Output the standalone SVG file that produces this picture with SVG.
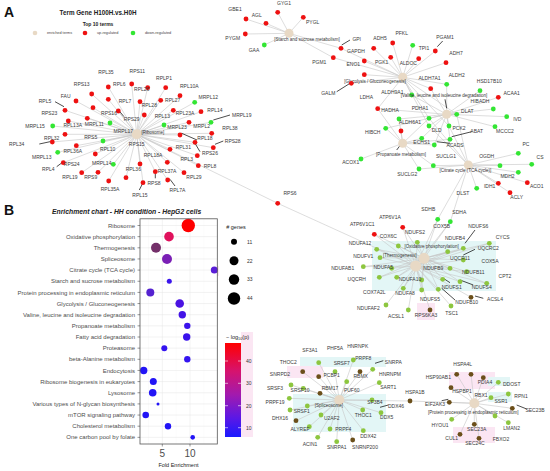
<svg xmlns="http://www.w3.org/2000/svg" width="550" height="471" viewBox="0 0 550 471">
<defs>
<linearGradient id="cbar" x1="0" y1="0" x2="0" y2="1">
<stop offset="0" stop-color="#FF0000"/>
<stop offset="0.3" stop-color="#D6136E"/>
<stop offset="0.55" stop-color="#A21AAE"/>
<stop offset="0.8" stop-color="#5A18E6"/>
<stop offset="1" stop-color="#1A1AFF"/>
</linearGradient>
</defs>
<style>
text{font-family:"Liberation Sans",Arial,sans-serif}
.e{stroke:#C6C6C6;stroke-width:.6;fill:none}
.ld{stroke:#000;stroke-width:.7;fill:none}
.r{fill:#EE1111}
.g{fill:#33E633}
.y{fill:#8DC63F}
.b{fill:#6B4F1A}
.h{fill:#E8D9C5}
.l{font-size:5px;fill:#3A3A3A;text-anchor:middle}
.ht{font-size:4.5px;fill:#333;text-anchor:middle}
.ax{font-size:6px;fill:#4D4D4D;text-anchor:end}
.grid{stroke:#E4E4E4;stroke-width:.5}
.mgrid{stroke:#F2F2F2;stroke-width:.35}
.lg{font-size:3.8px;fill:#444}
.hl-c{fill:#E3F6F6}
.hl-p{fill:#FBE6F3}
</style>

<g id="highlights">
<rect class="hl-c" x="372" y="241" width="124" height="50"/>
<rect class="hl-p" x="417" y="303" width="18" height="17"/>
<rect class="hl-c" x="300" y="357" width="86" height="10"/>
<rect class="hl-p" x="287" y="366" width="36" height="12"/>
<rect class="hl-c" x="293" y="394" width="93" height="38"/>
<rect class="hl-p" x="449" y="372" width="46" height="17"/>
<rect class="hl-c" x="488" y="377" width="22" height="9"/>
<rect class="hl-c" x="488" y="392" width="24" height="10"/>
<rect class="hl-p" x="453" y="427" width="42" height="16"/>
<rect class="hl-p" x="143" y="240" width="34" height="14"/>
<rect class="hl-p" x="207" y="266" width="12" height="10"/>
<rect class="hl-p" x="241" y="332" width="12" height="105"/>
</g>

<g id="panelA-header">
<text x="4" y="16.5" font-size="14" font-weight="bold" fill="#111">A</text>
<text x="98" y="15" font-size="6.3" font-weight="bold" fill="#222" text-anchor="middle">Term Gene  H100H.vs.H0H</text>
<text x="98" y="26" font-size="5" font-weight="bold" fill="#222" text-anchor="middle">Top 10 terms</text>
<circle class="h" cx="35" cy="33" r="2.3"/>
<text class="lg" x="47" y="34.3">enriched terms</text>
<circle class="r" cx="85" cy="33" r="2.3"/>
<text class="lg" x="97" y="34.3">up-regulated</text>
<circle class="g" cx="133" cy="33" r="2.3"/>
<text class="lg" x="145" y="34.3">down-regulated</text>
</g>

<g id="connectors">
<path class="e" d="M136.7 134.3L131.7 84M136.7 134.3L108.3 87M136.7 134.3L147.7 87.7M136.7 134.3L165.7 87.7M136.7 134.3L91.7 94M136.7 134.3L180 95.7M136.7 134.3L76 101M136.7 134.3L108.3 99.3M136.7 134.3L140 101.7M136.7 134.3L160.7 100.3M136.7 134.3L194.7 102.3M136.7 134.3L65 110.3M136.7 134.3L93 107.7M136.7 134.3L118.3 111M136.7 134.3L144.3 115M136.7 134.3L173.3 110.3M136.7 134.3L52.7 126M136.7 134.3L68.3 121M136.7 134.3L87.3 118.3M136.7 134.3L110 123M136.7 134.3L164 125M136.7 134.3L65 134.3M136.7 134.3L103 141M136.7 134.3L180 135M136.7 134.3L52.3 142M136.7 134.3L76.3 145.7M136.7 134.3L57.7 152.3M136.7 134.3L95.3 154M136.7 134.3L170 149.3M136.7 134.3L63.3 162.7M136.7 134.3L113.3 164.3M136.7 134.3L140 164M136.7 134.3L167.3 162.3M136.7 134.3L81.7 172.7M136.7 134.3L98 172.3M136.7 134.3L126 177.7M136.7 134.3L155.3 171.7M136.7 134.3L184 172.7M136.7 134.3L108.7 181M136.7 134.3L143 182.7M136.7 134.3L167.7 180M136.7 134.3L201 111.7M136.7 134.3L211 122.3M136.7 134.3L189 122.3M136.7 134.3L211.7 133.3M136.7 134.3L195 142.3M136.7 134.3L213.3 147.7M136.7 134.3L197.3 155.7M136.7 134.3L198.3 165.7M136.7 134.3L277.7 203.3L415.7 266"/>
<path class="e" d="M289 33.3L277.7 12.3M289 33.3L246 19M289 33.3L266 23.3M289 33.3L303.3 17.3M289 33.3L245.3 34M289 33.3L264.3 45M289 33.3L341 48.3M289 33.3L333.3 57.7"/>
<path class="e" d="M402.7 77.3L341 48.3M402.7 77.3L333.3 57.7M402.7 77.3L373.7 48.3M402.7 77.3L392.7 43M402.7 77.3L412.7 45.3M402.7 77.3L435.3 51M402.7 77.3L446 62.7M402.7 77.3L364.3 61M402.7 77.3L390.7 57.3M402.7 77.3L418.7 58.7M402.7 77.3L364.3 74.7M402.7 77.3L351.3 83.3M402.7 77.3L430.7 88.7M402.7 77.3L446.7 84.3M402.7 77.3L411.7 95M402.7 77.3L377.7 108.7M402.7 77.3L429 118.3M402.7 77.3L456.7 114.3M402.7 77.3L429 126M402.7 77.3L449 126"/>
<path class="e" d="M446.7 114.3L446.7 84.3M446.7 114.3L430.7 88.7M446.7 114.3L411.7 95M446.7 114.3L480 90.7M446.7 114.3L498.3 97.3M446.7 114.3L456.7 114.3M446.7 114.3L493.3 109M446.7 114.3L506.7 116.7M446.7 114.3L429 118.3M446.7 114.3L399 119M446.7 114.3L385.7 128.3M446.7 114.3L429 126M446.7 114.3L449 126M446.7 114.3L495 126.7M446.7 114.3L450 139.3M446.7 114.3L421.7 138.3M446.7 114.3L434.3 145M446.7 114.3L377.7 108.7"/>
<path class="e" d="M402.7 143.3L361 159M402.7 143.3L419 169M402.7 143.3L433.3 165.7M402.7 143.3L421.7 138.3M402.7 143.3L450 139.3M402.7 143.3L434.3 145M402.7 143.3L399 119M402.7 143.3L385.7 128.3M402.7 143.3L401 131M402.7 143.3L377.7 108.7M402.7 143.3L429 118.3"/>
<path class="e" d="M468.3 165L518.3 153.3M468.3 165L531.7 164.3M468.3 165L500 165.7M468.3 165L518.3 172.3M468.3 165L527.3 182.7M468.3 165L498.3 183.3M468.3 165L476.7 188.3M468.3 165L510 192.7M468.3 165L433.3 165.7M468.3 165L419 169M468.3 165L456.7 114.3M468.3 165L429 126M468.3 165L449 126M468.3 165L429 118.3M468.3 165L437.7 219.3M468.3 165L450.3 221.7"/>
<path class="e" d="M424 258.3L437.7 219.3M424 258.3L450.3 221.7M424 258.3L402.7 227.3M424 258.3L374.3 234.3M424 258.3L398.3 246M424 258.3L417.3 242.3M424 258.3L447.7 251.7M424 258.3L463.3 248.3M424 258.3L489.3 243.3M424 258.3L376.7 249.3M424 258.3L380 257.7M424 258.3L463.3 260M424 258.3L363.3 266.7M424 258.3L391.7 268.3M424 258.3L450 268.3M424 258.3L466.7 271.7M424 258.3L486.7 283.3M424 258.3L379.3 277.3M424 258.3L396.7 277.3M424 258.3L421.7 280M424 258.3L442.7 279.3M424 258.3L460 281.7M424 258.3L403.3 288.3M424 258.3L421.7 290M424 258.3L438.3 289.3"/>
<path class="e" d="M415.7 266L437.7 219.3M415.7 266L450.3 221.7M415.7 266L402.7 227.3M415.7 266L374.3 234.3M415.7 266L398.3 246M415.7 266L417.3 242.3M415.7 266L447.7 251.7M415.7 266L463.3 248.3M415.7 266L489.3 243.3M415.7 266L376.7 249.3M415.7 266L380 257.7M415.7 266L463.3 260M415.7 266L363.3 266.7M415.7 266L391.7 268.3M415.7 266L450 268.3M415.7 266L466.7 271.7M415.7 266L486.7 283.3M415.7 266L379.3 277.3M415.7 266L396.7 277.3M415.7 266L421.7 280M415.7 266L442.7 279.3M415.7 266L460 281.7M415.7 266L403.3 288.3M415.7 266L421.7 290M415.7 266L438.3 289.3M415.7 266L386 305M415.7 266L408.3 310M415.7 266L451 306M415.7 266L471 297.3M415.7 266L430 310"/>
<path class="e" d="M339.3 400L318.7 362.7M339.3 400L353.3 360M339.3 400L335 371.7M339.3 400L372.7 369.3M339.3 400L291 385M339.3 400L303.3 388.3M339.3 400L346.7 381.7M339.3 400L379.3 382.7M339.3 400L289.3 398.3M339.3 400L307.3 406M339.3 400L290 410M339.3 400L362.7 410M339.3 400L381 412.7M339.3 400L321 415M339.3 400L309.3 426.7M339.3 400L330 429M339.3 400L363.3 430.7M339.3 400L317.7 437.3M339.3 400L336.7 441.7M339.3 400L372 400M339.3 400L302.7 371.7M339.3 400L318.7 376.7M339.3 400L360 371.7M339.3 400L320 393.3M339.3 400L296 420.7M339.3 400L352.7 440M339.3 400L410 401L474.3 403.3"/>
<path class="e" d="M474.3 403.3L456.7 374.3M474.3 403.3L471 374.3M474.3 403.3L483.3 377.7M474.3 403.3L498.3 382.3M474.3 403.3L451 387.7M474.3 403.3L508.3 394M474.3 403.3L491 397.7M474.3 403.3L449.3 402.3M474.3 403.3L512.3 408.3M474.3 403.3L495 416M474.3 403.3L451.7 419.3M474.3 403.3L474.3 424.3M474.3 403.3L508.3 422.7M474.3 403.3L460 434.3M474.3 403.3L479 438.3"/>
<path class="ld" d="M55 101.7L64 106.7M119.3 111L124 116.7M39.3 144L50 141.7M56.7 166.7L63.3 161.7M155.3 173.3L155.3 178.3M139.3 190L142.7 183.3M170 179.3L175 186M181.7 133.3L197 140M213.3 120L230 115M215 144.3L223.3 141M195 143.3L200 151.7"/>
<path class="ld" d="M341.7 45L350 40M437.3 46.7L442.7 41M336.7 91.7L350 83.3M445 99.3L446.7 108.3M451.7 136.7L471.7 131.7M436.7 141.7L450 143.3M396.7 150L401.7 143.3"/>
<path class="ld" d="M465 243.3L475 230M463.3 255L475 249.3M443.3 278.3L450 282.7M460 280L473.3 285M441.7 288.3L455 300M475 296L483.3 298.3"/>
<path class="ld" d="M375 363.3L383.3 360.7M380 407.3L388.3 405M441.7 400.7L448.3 399.3M516.7 405L526.7 409"/>
</g>

<g id="term-ribosome">
<circle class="h" cx="136.7" cy="134.3" r="5"/>
<text class="ht" x="141.5" y="133.8" style="text-anchor:start">[Ribosome]</text>
</g>
<g id="genes-ribosome">
<circle class="r" cx="131.7" cy="84" r="2.4"/><circle class="r" cx="108.3" cy="87" r="2.4"/><circle class="r" cx="147.7" cy="87.7" r="2.4"/><circle class="r" cx="165.7" cy="87.7" r="2.4"/><circle class="r" cx="91.7" cy="94" r="2.4"/><circle class="r" cx="180" cy="95.7" r="2.4"/><circle class="r" cx="76" cy="101" r="2.4"/><circle class="r" cx="108.3" cy="99.3" r="2.4"/><circle class="r" cx="140" cy="101.7" r="2.4"/><circle class="r" cx="160.7" cy="100.3" r="2.4"/><circle class="g" cx="194.7" cy="102.3" r="2.4"/><circle class="r" cx="65" cy="110.3" r="2.4"/><circle class="r" cx="93" cy="107.7" r="2.4"/><circle class="r" cx="118.3" cy="111" r="2.4"/><circle class="r" cx="144.3" cy="115" r="2.4"/><circle class="r" cx="173.3" cy="110.3" r="2.4"/><circle class="g" cx="52.7" cy="126" r="2.4"/><circle class="r" cx="68.3" cy="121" r="2.4"/><circle class="r" cx="87.3" cy="118.3" r="2.4"/><circle class="g" cx="110" cy="123" r="2.4"/><circle class="g" cx="164" cy="125" r="2.4"/><circle class="r" cx="65" cy="134.3" r="2.4"/><circle class="g" cx="103" cy="141" r="2.4"/><circle class="r" cx="180" cy="135" r="2.4"/><circle class="r" cx="52.3" cy="142" r="2.4"/><circle class="r" cx="76.3" cy="145.7" r="2.4"/><circle class="g" cx="57.7" cy="152.3" r="2.4"/><circle class="r" cx="95.3" cy="154" r="2.4"/><circle class="r" cx="170" cy="149.3" r="2.4"/><circle class="r" cx="63.3" cy="162.7" r="2.4"/><circle class="g" cx="113.3" cy="164.3" r="2.4"/><circle class="r" cx="140" cy="164" r="2.4"/><circle class="r" cx="167.3" cy="162.3" r="2.4"/><circle class="r" cx="81.7" cy="172.7" r="2.4"/><circle class="r" cx="98" cy="172.3" r="2.4"/><circle class="r" cx="126" cy="177.7" r="2.4"/><circle class="r" cx="155.3" cy="171.7" r="2.4"/><circle class="r" cx="184" cy="172.7" r="2.4"/><circle class="r" cx="108.7" cy="181" r="2.4"/><circle class="r" cx="143" cy="182.7" r="2.4"/><circle class="r" cx="167.7" cy="180" r="2.4"/><circle class="r" cx="201" cy="111.7" r="2.4"/><circle class="g" cx="211" cy="122.3" r="2.4"/><circle class="r" cx="189" cy="122.3" r="2.4"/><circle class="r" cx="211.7" cy="133.3" r="2.4"/><circle class="r" cx="195" cy="142.3" r="2.4"/><circle class="r" cx="213.3" cy="147.7" r="2.4"/><circle class="r" cx="197.3" cy="155.7" r="2.4"/><circle class="r" cx="198.3" cy="165.7" r="2.4"/>
<circle id="n-RPS6" class="r" cx="277.7" cy="203.3" r="2.4"/>
<text class="l" x="106" y="73.5">RPL35</text><text class="l" x="137.3" y="72.8">RPS11</text><text class="l" x="164" y="79.5">RPLP1</text><text class="l" x="81.7" y="85.8">RPS13</text><text class="l" x="119.3" y="85.8">RPL6</text><text class="l" x="141.7" y="91.1">RPL26</text><text class="l" x="189.3" y="87.5">RPL10A</text><text class="l" x="65.7" y="97.8">FAU</text><text class="l" x="45" y="102.8">RPL5</text><text class="l" x="125" y="102.8">RPL7</text><text class="l" x="149.3" y="106.8">RPL28</text><text class="l" x="172.7" y="101.8">RPL27</text><text class="l" x="208.3" y="99.1">MRPL12</text><text class="l" x="49.3" y="114.8">RPS23</text><text class="l" x="109" y="114.8">RPS16</text><text class="l" x="131.7" y="120.8">RPS29</text><text class="l" x="162.3" y="117.8">RPL13</text><text class="l" x="185" y="115.1">RPL23A</text><text class="l" x="215" y="111.8">RPL14</text><text class="l" x="241.7" y="116.8">MRPL19</text><text class="l" x="35" y="127.8">MRPL15</text><text class="l" x="72.7" y="126.8">RPL13A</text><text class="l" x="94.3" y="125.8">MRPL11</text><text class="l" x="123.3" y="132.5">MRPL17</text><text class="l" x="177" y="128.5">MRPL23</text><text class="l" x="201.7" y="127.8">MRPL2</text><text class="l" x="230" y="129.5">RPL38</text><text class="l" x="51.7" y="140.1">RPL32</text><text class="l" x="90.7" y="138.5">RPS5</text><text class="l" x="205" y="140.1">RPL18</text><text class="l" x="232.7" y="142.8">RPS28</text><text class="l" x="16.7" y="145.8">RPL34</text><text class="l" x="136.7" y="145.8">RPS15</text><text class="l" x="183.3" y="149.1">RPL31</text><text class="l" x="72.7" y="152.8">RPL36A</text><text class="l" x="107.7" y="151.1">RPL10</text><text class="l" x="210" y="155.1">RPS26</text><text class="l" x="153" y="156.8">RPL18A</text><text class="l" x="41.7" y="159.1">MRPL13</text><text class="l" x="186.7" y="161.1">RPL3</text><text class="l" x="71.7" y="166.1">RPS24</text><text class="l" x="101.7" y="164.5">MRPL14</text><text class="l" x="210" y="167.5">RPL8</text><text class="l" x="48.3" y="171.1">RPL4</text><text class="l" x="133.3" y="170.8">RPL36</text><text class="l" x="167" y="172.8">RPL37A</text><text class="l" x="70" y="179.1">RPL19</text><text class="l" x="90.7" y="179.1">RPS9</text><text class="l" x="194" y="179.3">RPL29</text><text class="l" x="154" y="185.1">RPS8</text><text class="l" x="110" y="191.1">RPL35A</text><text class="l" x="177.5" y="192.1">RPL7A</text><text class="l" x="140" y="196.8">RPL15</text><text class="l" x="290" y="195.1">RPS6</text>
</g>

<g id="term-starch">
<circle class="h" cx="289" cy="33.3" r="4.5"/>
<text class="ht" x="307" y="40.5">[Starch and sucrose metabolism]</text>
</g>
<g id="genes-starch">
<circle class="r" cx="277.7" cy="12.3" r="2.4"/><circle class="r" cx="246" cy="19" r="2.4"/><circle class="r" cx="266" cy="23.3" r="2.4"/><circle class="r" cx="303.3" cy="17.3" r="2.4"/><circle class="r" cx="245.3" cy="34" r="2.4"/><circle class="g" cx="264.3" cy="45" r="2.4"/><circle class="r" cx="341" cy="48.3" r="2.4"/><circle class="r" cx="333.3" cy="57.7" r="2.4"/>
<text class="l" x="284" y="4.8">GYG1</text><text class="l" x="235" y="10.8">GBE1</text><text class="l" x="256.7" y="16.8">AGL</text><text class="l" x="312.7" y="24.1">PYGL</text><text class="l" x="232.7" y="40.1">PYGM</text><text class="l" x="254" y="51.8">GAA</text><text class="l" x="356.7" y="40.5">GPI</text><text class="l" x="356" y="52.8">GAPDH</text><text class="l" x="319.3" y="64.1">PGM1</text>
</g>

<g id="term-glycolysis">
<circle class="h" cx="402.7" cy="77.3" r="4.5"/>
<text class="ht" x="375" y="82.6">[Glycolysis / Gluconeogenesis]</text>
</g>
<g id="genes-glycolysis">
<circle class="r" cx="373.7" cy="48.3" r="2.4"/><circle class="r" cx="392.7" cy="43" r="2.4"/><circle class="g" cx="412.7" cy="45.3" r="2.4"/><circle class="r" cx="435.3" cy="51" r="2.4"/><circle class="r" cx="446" cy="62.7" r="2.4"/><circle class="r" cx="364.3" cy="61" r="2.4"/><circle class="r" cx="390.7" cy="57.3" r="2.4"/><circle class="r" cx="418.7" cy="58.7" r="2.4"/><circle class="r" cx="364.3" cy="74.7" r="2.4"/><circle class="r" cx="351.3" cy="83.3" r="2.4"/><circle class="r" cx="430.7" cy="88.7" r="2.4"/><circle class="g" cx="446.7" cy="84.3" r="2.4"/><circle class="g" cx="411.7" cy="95" r="2.4"/><circle class="r" cx="377.7" cy="108.7" r="2.4"/>
<text class="l" x="380" y="39.5">ADH5</text><text class="l" x="401.7" y="35.1">PFKL</text><text class="l" x="424" y="50.1">TPI1</text><text class="l" x="445" y="38.5">PGAM1</text><text class="l" x="456" y="54.5">ADH7</text><text class="l" x="353.3" y="66.1">ENO1</text><text class="l" x="381.7" y="63.5">PGK1</text><text class="l" x="408.3" y="64.5">ALDOC</text><text class="l" x="328.3" y="94.5">GALM</text><text class="l" x="366.3" y="99.3">LDHA</text><text class="l" x="429.5" y="79.5">ALDH7A1</text><text class="l" x="456.7" y="76.5">ALDH2</text><text class="l" x="392.3" y="94.3">ALDH9A1</text>
</g>

<g id="term-valine">
<circle class="h" cx="446.7" cy="114.3" r="4.5"/>
<text class="ht" x="444" y="97.3">[Valine, leucine and isoleucine degradation]</text>
</g>
<g id="genes-valine">
<circle class="g" cx="480" cy="90.7" r="2.4"/><circle class="r" cx="498.3" cy="97.3" r="2.4"/><circle class="g" cx="456.7" cy="114.3" r="2.4"/><circle class="g" cx="493.3" cy="109" r="2.4"/><circle class="g" cx="506.7" cy="116.7" r="2.4"/><circle class="g" cx="429" cy="118.3" r="2.4"/><circle class="g" cx="399" cy="119" r="2.4"/><circle class="g" cx="385.7" cy="128.3" r="2.4"/><circle class="g" cx="429" cy="126" r="2.4"/><circle class="g" cx="449" cy="126" r="2.4"/><circle class="g" cx="495" cy="126.7" r="2.4"/><circle class="g" cx="450" cy="139.3" r="2.4"/><circle class="g" cx="421.7" cy="138.3" r="2.4"/><circle class="g" cx="434.3" cy="145" r="2.4"/><circle class="r" cx="401" cy="131" r="2.4"/>
<text class="l" x="489.3" y="83.1">HSD17B10</text><text class="l" x="511.7" y="95.1">ACAA1</text><text class="l" x="480" y="103.3">HIBADH</text><text class="l" x="390" y="111.8">HADHA</text><text class="l" x="420" y="109.5">PDHA1</text><text class="l" x="467.3" y="112.8">DLAT</text><text class="l" x="517.3" y="121.1">IVD</text><text class="l" x="410" y="124.1">ALDH6A1</text><text class="l" x="372.7" y="133.5">HIBCH</text><text class="l" x="436.7" y="131.8">DLD</text><text class="l" x="459" y="129.5">PCK2</text><text class="l" x="505" y="132.8">MCCC2</text><text class="l" x="476.7" y="132.8">ABAT</text><text class="l" x="421.7" y="144.1">ECHS1</text><text class="l" x="455" y="146.8">ACADS</text>
</g>

<g id="term-propanoate">
<circle class="h" cx="402.7" cy="143.3" r="4.5"/>
<text class="ht" x="401" y="155.9">[Propanoate metabolism]</text>
</g>
<g id="genes-propanoate">
<circle class="g" cx="361" cy="159" r="2.4"/><circle class="g" cx="419" cy="169" r="2.4"/><circle class="g" cx="433.3" cy="165.7" r="2.4"/>
<text class="l" x="350.7" y="164.1">ACOX1</text><text class="l" x="407.3" y="176.1">SUCLG2</text><text class="l" x="446" y="157.8">SUCLG1</text>
</g>

<g id="term-citrate">
<circle class="h" cx="468.3" cy="165" r="4.5"/>
<text class="ht" x="465.5" y="171.6">[Citrate cycle (TCA cycle)]</text>
</g>
<g id="genes-citrate">
<circle class="g" cx="518.3" cy="153.3" r="2.4"/><circle class="g" cx="531.7" cy="164.3" r="2.4"/><circle class="g" cx="500" cy="165.7" r="2.4"/><circle class="g" cx="518.3" cy="172.3" r="2.4"/><circle class="r" cx="527.3" cy="182.7" r="2.4"/><circle class="r" cx="498.3" cy="183.3" r="2.4"/><circle class="g" cx="476.7" cy="188.3" r="2.4"/><circle class="r" cx="510" cy="192.7" r="2.4"/>
<text class="l" x="526" y="146.1">PC</text><text class="l" x="540" y="159.1">CS</text><text class="l" x="486.7" y="157.8">OGDH</text><text class="l" x="507.5" y="177.8">MDH2</text><text class="l" x="536.7" y="188">ACO1</text><text class="l" x="489.7" y="188.3">IDH1</text><text class="l" x="463" y="194.5">DLST</text><text class="l" x="516.7" y="198.5">ACLY</text>
</g>

<g id="term-oxphos">
<circle class="h" cx="424" cy="258.3" r="5.5"/>
<text class="ht" x="431.7" y="248.3">[Oxidative phosphorylation]</text>
</g>
<g id="term-thermogenesis">
<circle class="h" cx="415.7" cy="266" r="5.5"/>
<text class="ht" x="399.7" y="257.3">[Thermogenesis]</text>
</g>
<g id="genes-oxphos">
<circle class="g" cx="437.7" cy="219.3" r="2.4"/><circle class="g" cx="450.3" cy="221.7" r="2.4"/><circle class="r" cx="402.7" cy="227.3" r="2.4"/><circle class="r" cx="374.3" cy="234.3" r="2.4"/>
<circle class="y" cx="398.3" cy="246" r="2.4"/><circle class="y" cx="417.3" cy="242.3" r="2.4"/><circle class="y" cx="447.7" cy="251.7" r="2.4"/><circle class="y" cx="463.3" cy="248.3" r="2.4"/><circle class="y" cx="489.3" cy="243.3" r="2.4"/><circle class="y" cx="376.7" cy="249.3" r="2.4"/><circle class="y" cx="380" cy="257.7" r="2.4"/><circle class="y" cx="463.3" cy="260" r="2.4"/><circle class="y" cx="363.3" cy="266.7" r="2.4"/><circle class="y" cx="391.7" cy="268.3" r="2.4"/><circle class="y" cx="450" cy="268.3" r="2.4"/><circle class="y" cx="466.7" cy="271.7" r="2.4"/><circle class="y" cx="486.7" cy="283.3" r="2.4"/><circle class="y" cx="379.3" cy="277.3" r="2.4"/><circle class="y" cx="396.7" cy="277.3" r="2.4"/><circle class="y" cx="421.7" cy="280" r="2.4"/><circle class="y" cx="442.7" cy="279.3" r="2.4"/><circle class="y" cx="460" cy="281.7" r="2.4"/><circle class="y" cx="403.3" cy="288.3" r="2.4"/><circle class="y" cx="421.7" cy="290" r="2.4"/><circle class="y" cx="438.3" cy="289.3" r="2.4"/><circle class="y" cx="386" cy="305" r="2.4"/><circle class="y" cx="408.3" cy="310" r="2.4"/><circle class="y" cx="451" cy="306" r="2.4"/><circle class="b" cx="471" cy="297.3" r="2.4"/><circle class="b" cx="430" cy="310" r="2.4"/>
<text class="l" x="428.3" y="211.1">SDHB</text><text class="l" x="459.3" y="213.5">SDHA</text><text class="l" x="390" y="218.5">ATP6V1A</text><text class="l" x="362.3" y="226.1">ATP6V1C1</text><text class="l" x="388.3" y="237.8">COX6C</text><text class="l" x="415" y="234.1">NDUFS2</text><text class="l" x="441.7" y="227.8">COX5B</text><text class="l" x="478.3" y="227.8">NDUFS6</text><text class="l" x="455" y="240.1">NDUFB4</text><text class="l" x="502.7" y="238.5">CYCS</text><text class="l" x="360" y="244.5">NDUFA12</text><text class="l" x="488.3" y="250.1">UQCRC2</text><text class="l" x="363.3" y="257.5">NDUFV1</text><text class="l" x="460" y="260.1">UQCR11</text><text class="l" x="490" y="262.8">COX5A</text><text class="l" x="342.7" y="270.1">NDUFAB1</text><text class="l" x="383.3" y="269.1">NDUFA5</text><text class="l" x="433.3" y="269.5">NDUFB9</text><text class="l" x="473.3" y="274.1">NDUFB11</text><text class="l" x="505" y="277.8">CPT2</text><text class="l" x="356.7" y="281.1">UQCRH</text><text class="l" x="410" y="281.1">NDUFA10</text><text class="l" x="451.7" y="288.5">NDUFS1</text><text class="l" x="481.7" y="288.5">NDUFS4</text><text class="l" x="374.3" y="293.5">COX7A2L</text><text class="l" x="405" y="294.5">NDUFA8</text><text class="l" x="430" y="301.1">NDUFS5</text><text class="l" x="466.7" y="303.5">NDUFB10</text><text class="l" x="495" y="301.1">ACSL4</text><text class="l" x="368.3" y="310.1">NDUFAF2</text><text class="l" x="396" y="317.5">ACSL1</text><text class="l" x="426" y="316.8">RPS6KA3</text><text class="l" x="451.7" y="315.1">TSC1</text>
</g>

<g id="term-spliceosome">
<circle class="h" cx="339.3" cy="400" r="5"/>
<text class="ht" x="329" y="406.6">[Spliceosome]</text>
</g>
<g id="genes-spliceosome">
<circle class="y" cx="318.7" cy="362.7" r="2.4"/><circle class="y" cx="353.3" cy="360" r="2.4"/><circle class="y" cx="335" cy="371.7" r="2.4"/><circle class="y" cx="372.7" cy="369.3" r="2.4"/><circle class="y" cx="291" cy="385" r="2.4"/><circle class="y" cx="303.3" cy="388.3" r="2.4"/><circle class="y" cx="346.7" cy="381.7" r="2.4"/><circle class="y" cx="379.3" cy="382.7" r="2.4"/><circle class="y" cx="289.3" cy="398.3" r="2.4"/><circle class="y" cx="307.3" cy="406" r="2.4"/><circle class="y" cx="290" cy="410" r="2.4"/><circle class="y" cx="362.7" cy="410" r="2.4"/><circle class="y" cx="381" cy="412.7" r="2.4"/><circle class="y" cx="321" cy="415" r="2.4"/><circle class="y" cx="309.3" cy="426.7" r="2.4"/><circle class="y" cx="330" cy="429" r="2.4"/><circle class="y" cx="363.3" cy="430.7" r="2.4"/><circle class="y" cx="317.7" cy="437.3" r="2.4"/><circle class="y" cx="336.7" cy="441.7" r="2.4"/><circle class="y" cx="372" cy="400" r="2.4"/>
<circle class="b" cx="302.7" cy="371.7" r="2.4"/><circle class="b" cx="318.7" cy="376.7" r="2.4"/><circle class="b" cx="360" cy="371.7" r="2.4"/><circle class="b" cx="320" cy="393.3" r="2.4"/><circle class="b" cx="296" cy="420.7" r="2.4"/><circle class="b" cx="352.7" cy="440" r="2.4"/><circle class="b" cx="410" cy="401" r="2.4"/>
<text class="l" x="310" y="351.8">SF3A1</text><text class="l" x="335" y="350.1">PHF5A</text><text class="l" x="357.7" y="347.8">HNRNPK</text><text class="l" x="288.3" y="364.1">THOC2</text><text class="l" x="341.7" y="364.5">SRSF7</text><text class="l" x="363.3" y="360.1">PRPF8</text><text class="l" x="393.3" y="363.5">SNRPA</text><text class="l" x="280" y="376.1">SNRPD2</text><text class="l" x="331.7" y="376.8">PCBP1</text><text class="l" x="360.7" y="377.5">RBMX</text><text class="l" x="390" y="376.1">HNRNPM</text><text class="l" x="275" y="389.5">SRSF3</text><text class="l" x="300" y="391.8">SRSF10</text><text class="l" x="330" y="389.5">RBM17</text><text class="l" x="351.7" y="391.8">PUF60</text><text class="l" x="388.3" y="389.1">SART1</text><text class="l" x="275" y="403.5">PRPF19</text><text class="l" x="375" y="403.5">SF3B4</text><text class="l" x="396" y="407.8">DDX46</text><text class="l" x="301.7" y="412.8">SRSF1</text><text class="l" x="363.3" y="416.8">THOC1</text><text class="l" x="386.7" y="419.1">DDX5</text><text class="l" x="280" y="420.1">DHX16</text><text class="l" x="331.7" y="420.1">U2AF2</text><text class="l" x="300" y="430.8">ALYREF</text><text class="l" x="343.3" y="431.1">PRPF4</text><text class="l" x="368.3" y="437.8">DDX42</text><text class="l" x="310" y="445.8">ACIN1</text><text class="l" x="336.7" y="448.5">SNRPA1</text><text class="l" x="365" y="449.1">SNRNP200</text><text class="l" x="415" y="394">HSPA1B</text>
</g>

<g id="term-er">
<circle class="h" cx="474.3" cy="403.3" r="5"/>
<text class="ht" x="473.3" y="414.3">[Protein processing in endoplasmic reticulum]</text>
</g>
<g id="genes-er">
<circle class="b" cx="456.7" cy="374.3" r="2.4"/><circle class="b" cx="471" cy="374.3" r="2.4"/><circle class="b" cx="483.3" cy="377.7" r="2.4"/><circle class="y" cx="498.3" cy="382.3" r="2.4"/><circle class="b" cx="451" cy="387.7" r="2.4"/><circle class="y" cx="508.3" cy="394" r="2.4"/><circle class="y" cx="491" cy="397.7" r="2.4"/><circle class="b" cx="449.3" cy="402.3" r="2.4"/><circle class="b" cx="512.3" cy="408.3" r="2.4"/><circle class="y" cx="495" cy="416" r="2.4"/><circle class="y" cx="451.7" cy="419.3" r="2.4"/><circle class="b" cx="474.3" cy="424.3" r="2.4"/><circle class="y" cx="508.3" cy="422.7" r="2.4"/><circle class="b" cx="460" cy="434.3" r="2.4"/><circle class="b" cx="479" cy="438.3" r="2.4"/>
<text class="l" x="462.7" y="366.1">HSPA4L</text><text class="l" x="438.3" y="378.5">HSP90AB1</text><text class="l" x="485" y="383.5">PDIA4</text><text class="l" x="511.7" y="385.8">DDOST</text><text class="l" x="462" y="392.8">HSPBP1</text><text class="l" x="481" y="396.5">RBX1</text><text class="l" x="521" y="397.5">RPN1</text><text class="l" x="501" y="402.8">SSR1</text><text class="l" x="435" y="405.5">EIF2AK3</text><text class="l" x="535" y="411.8">SEC23B</text><text class="l" x="440" y="426.8">HYOU1</text><text class="l" x="476.7" y="431.1">SEC23A</text><text class="l" x="511.7" y="430.1">LMAN2</text><text class="l" x="451.7" y="440.1">CUL1</text><text class="l" x="475" y="445.1">SEC24C</text><text class="l" x="501" y="441.1">FBXO2</text>
</g>

<g id="panelB">
<text x="4" y="215" font-size="14" font-weight="bold" fill="#111">B</text>
<text x="52" y="213.5" font-size="6.8" font-weight="bold" font-style="italic" fill="#222">Enrichment chart - HH condition - HepG2 cells</text>
<rect x="140" y="218.8" width="77.3" height="225.2" fill="#fff"/>
<g id="gridlines">
<path class="mgrid" d="M148.5 218.8V444M176.1 218.8V444M203.8 218.8V444"/>
<path class="grid" d="M162.3 218.8V444M190 218.8V444"/>
<path class="grid" d="M140 225.5H217.3M140 236.65H217.3M140 247.8H217.3M140 258.95H217.3M140 270.1H217.3M140 281.25H217.3M140 292.4H217.3M140 303.55H217.3M140 314.7H217.3M140 325.85H217.3M140 337H217.3M140 348.15H217.3M140 359.3H217.3M140 370.45H217.3M140 381.6H217.3M140 392.75H217.3M140 403.9H217.3M140 415.05H217.3M140 426.2H217.3M140 437.35H217.3"/>
</g>
<g id="bubbles">
<circle cx="188.3" cy="225.5" r="6.7" fill="#FF0000"/>
<circle cx="169" cy="236.65" r="4.8" fill="#E0115C"/>
<circle cx="156" cy="247.8" r="5" fill="#74306A"/>
<circle cx="167" cy="258.95" r="5" fill="#7A1FB5"/>
<circle cx="214.3" cy="270.1" r="3.5" fill="#5A1ED8"/>
<circle cx="169.3" cy="281.25" r="2.5" fill="#3A14EC"/>
<circle cx="150.3" cy="292.4" r="4" fill="#5522D0"/>
<circle cx="179.7" cy="303.55" r="4.3" fill="#4A12E2"/>
<circle cx="182.3" cy="314.7" r="3.7" fill="#4212E6"/>
<circle cx="187.3" cy="325.85" r="3.2" fill="#3A12EC"/>
<circle cx="186.7" cy="337" r="3.7" fill="#3A12EC"/>
<circle cx="164.3" cy="348.15" r="3" fill="#3414F0"/>
<circle cx="187.3" cy="359.3" r="3.2" fill="#3414F0"/>
<circle cx="143.7" cy="370.45" r="3.7" fill="#2214F6"/>
<circle cx="153.3" cy="381.6" r="3.5" fill="#2214F6"/>
<circle cx="152.7" cy="392.75" r="3.8" fill="#2214F6"/>
<circle cx="158" cy="403.9" r="1.5" fill="#2214F6"/>
<circle cx="145.7" cy="415.05" r="3.3" fill="#2214F6"/>
<circle cx="168" cy="426.2" r="3.2" fill="#2214F6"/>
<circle cx="192.7" cy="437.35" r="2.3" fill="#2214F6"/>
</g>
<rect x="140" y="218.8" width="77.3" height="225.2" fill="none" stroke="#555" stroke-width=".8"/>
<path d="M137.5 225.5H140M137.5 236.65H140M137.5 247.8H140M137.5 258.95H140M137.5 270.1H140M137.5 281.25H140M137.5 292.4H140M137.5 303.55H140M137.5 314.7H140M137.5 325.85H140M137.5 337H140M137.5 348.15H140M137.5 359.3H140M137.5 370.45H140M137.5 381.6H140M137.5 392.75H140M137.5 403.9H140M137.5 415.05H140M137.5 426.2H140M137.5 437.35H140M162.3 444V446.5M190 444V446.5" stroke="#333" stroke-width=".5"/>
<g id="ylabels">
<text class="ax" x="135" y="227.6">Ribosome</text>
<text class="ax" x="135" y="238.75">Oxidative phosphorylation</text>
<text class="ax" x="135" y="249.9">Thermogenesis</text>
<text class="ax" x="135" y="261.05">Spliceosome</text>
<text class="ax" x="135" y="272.2">Citrate cycle (TCA cycle)</text>
<text class="ax" x="135" y="283.35">Starch and sucrose metabolism</text>
<text class="ax" x="135" y="294.5">Protein processing in endoplasmic reticulum</text>
<text class="ax" x="135" y="305.65">Glycolysis / Gluconeogenesis</text>
<text class="ax" x="135" y="316.8">Valine, leucine and isoleucine degradation</text>
<text class="ax" x="135" y="327.95">Propanoate metabolism</text>
<text class="ax" x="135" y="339.1">Fatty acid degradation</text>
<text class="ax" x="135" y="350.25">Proteasome</text>
<text class="ax" x="135" y="361.4">beta-Alanine metabolism</text>
<text class="ax" x="135" y="372.55">Endocytosis</text>
<text class="ax" x="135" y="383.7">Ribosome biogenesis in eukaryotes</text>
<text class="ax" x="135" y="394.85">Lysosome</text>
<text class="ax" x="135" y="406">Various types of N-glycan biosynthesis</text>
<text class="ax" x="135" y="417.15">mTOR signaling pathway</text>
<text class="ax" x="135" y="428.3">Cholesterol metabolism</text>
<text class="ax" x="135" y="439.45">One carbon pool by folate</text>
</g>
<text x="162.3" y="456.5" font-size="10" fill="#4D4D4D" text-anchor="middle">5</text>
<text x="190" y="456.5" font-size="10" fill="#4D4D4D" text-anchor="middle">10</text>
<text x="178.5" y="467" font-size="5.5" fill="#222" text-anchor="middle">Fold Enrichment</text>
<g id="legend-size">
<text x="236" y="229" font-size="5.5" fill="#222" text-anchor="middle"># genes</text>
<circle cx="234" cy="241.7" r="3" fill="#000"/>
<circle cx="234" cy="260.7" r="4.5" fill="#000"/>
<circle cx="234" cy="279.5" r="5.2" fill="#000"/>
<circle cx="234" cy="298.5" r="6.2" fill="#000"/>
<text x="247" y="243.5" font-size="5" fill="#333">11</text>
<text x="247" y="262.5" font-size="5" fill="#333">22</text>
<text x="247" y="281.3" font-size="5" fill="#333">33</text>
<text x="247" y="300.3" font-size="5" fill="#333">44</text>
</g>
<g id="legend-color">
<text x="226" y="338.5" font-size="5.5" fill="#222">− log<tspan font-size="3.8" dy="1.2">10</tspan><tspan dy="-1.2">(p)</tspan></text>
<rect x="225" y="343" width="16" height="94" fill="url(#cbar)"/>
<path d="M225 361H228M238 361H241M225 383.3H228M238 383.3H241M225 405.7H228M238 405.7H241M225 427.7H228M238 427.7H241" stroke="#fff" stroke-width=".6"/>
<text x="246" y="362.8" font-size="5" fill="#333">40</text>
<text x="246" y="385.1" font-size="5" fill="#333">30</text>
<text x="246" y="407.5" font-size="5" fill="#333">20</text>
<text x="246" y="429.5" font-size="5" fill="#333">10</text>
</g>
</g>
</svg>
